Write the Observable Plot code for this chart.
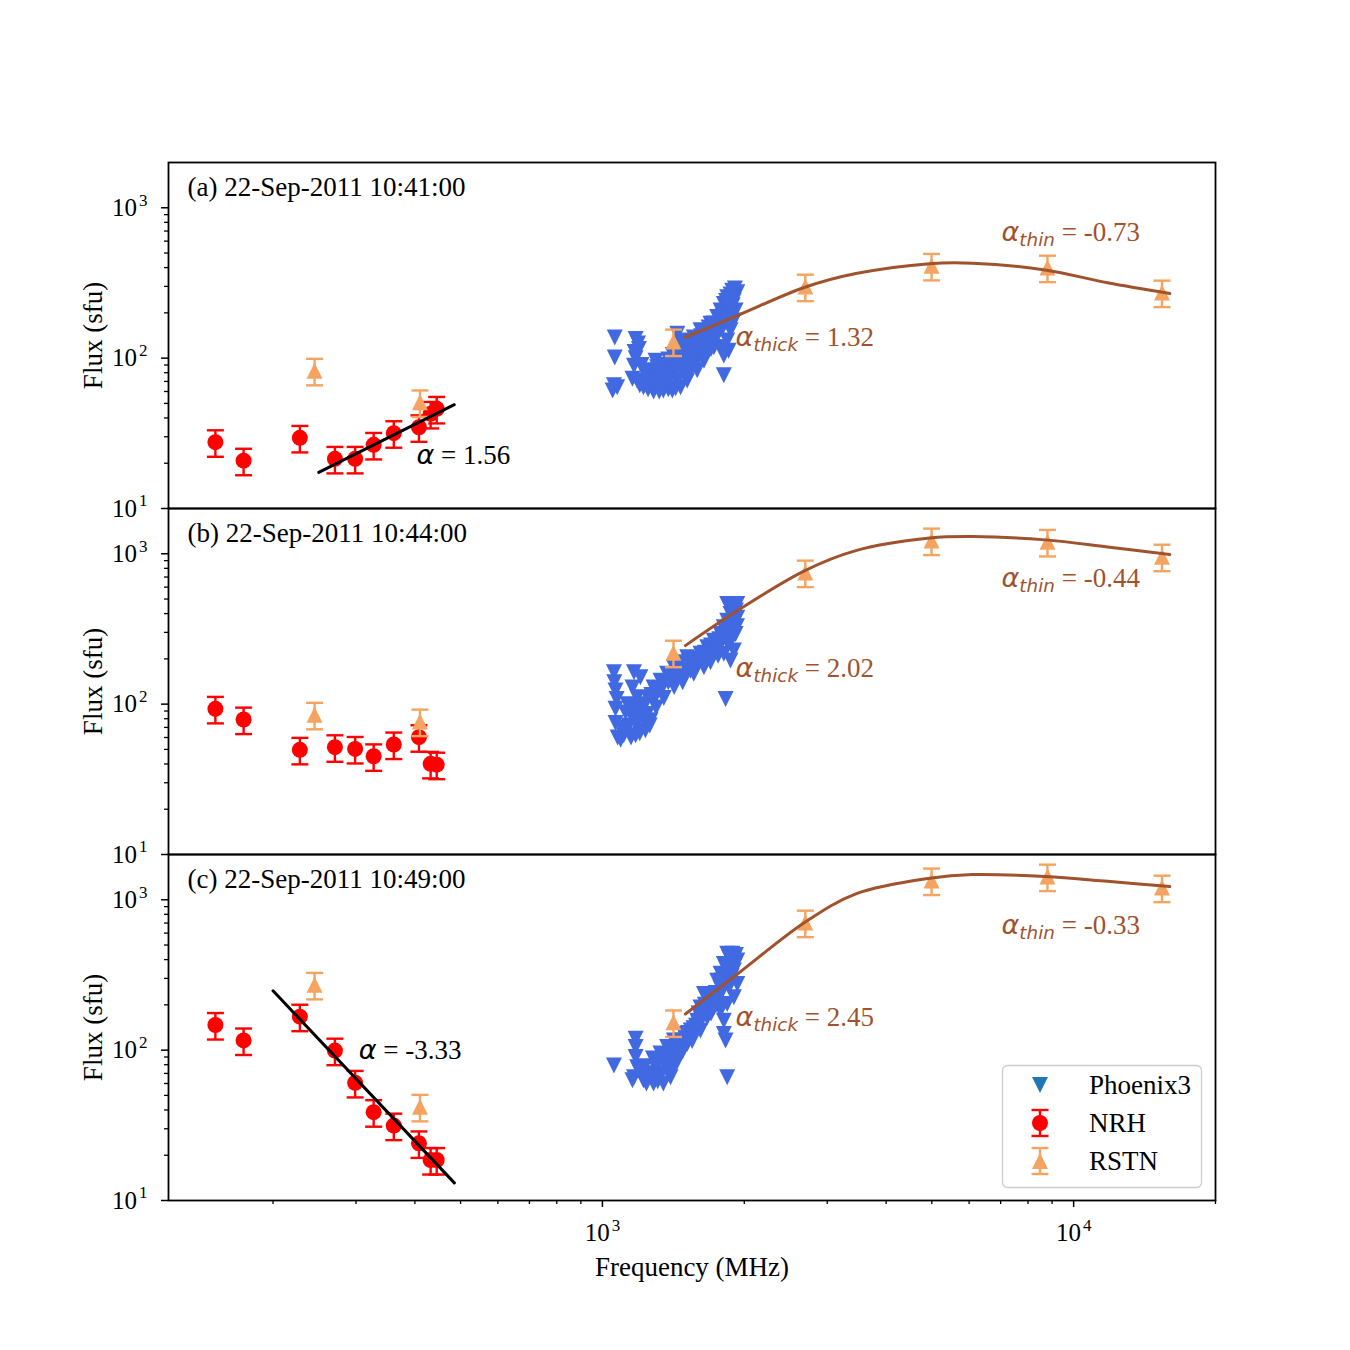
<!DOCTYPE html>
<html>
<head>
<meta charset="utf-8">
<script src="https://cdn.jsdelivr.net/npm/d3@7"></script>
<script src="https://cdn.jsdelivr.net/npm/@observablehq/plot@0.6"></script>
<style>
  body { margin: 0; background: #fff; }
  #chart { width: 1350px; height: 1350px; }
</style>
</head>
<body>
<div id="chart"></div>
<script>
// ---- panels ----
const panels = ["a", "b", "c"];
const panelTitles = ["(a) 22-Sep-2011 10:41:00", "(b) 22-Sep-2011 10:44:00", "(c) 22-Sep-2011 10:49:00"];

// ---- NRH (Nançay Radioheliograph) ----
const nrhFreq = [150.9, 173.2, 228.0, 270.6, 298.7, 327.0, 360.8, 408.0, 432.0, 445.0];
const nrhFluxA = [27.6, 20.8, 29.5, 21.4, 21.4, 26.5, 31.7, 34.7, 42.6, 46.0];
const nrhFluxB = [93.1, 79.0, 49.7, 51.7, 50.4, 45.0, 53.9, 60.3, 40.1, 39.6];
const nrhFluxC = [147, 116, 167, 99.3, 60.6, 38.7, 31.5, 24.0, 18.6, 18.6];

// ---- RSTN ----
const rstnFreq = [245, 410, 1415, 2695, 4995, 8800, 15400];
const rstnFluxA = [82.4, 50.8, 129, 299, 411, 400, 273];
const rstnFluxB = [85, 76.6, 220, 750, 1225, 1200, 957];
const rstnFluxC = [272, 42, 153, 705, 1343, 1427, 1205];

// relative flux uncertainty of the NRH and RSTN points
const fluxErr = 0.2;

// ---- Phoenix3 spectrometer [MHz, sfu] ----
const phoenixA = [
  [1062,137],[1062,101],[1075,64],[1051,61],[1058,66],
  [1176,134],[1195,115],[1167,89],[1176,100],[1158,73],[1190,125],[1170,110],
  [1185,71],[1222,64],[1284,60],[1347,61],[1407,61],[1465,64],[1250,62],[1320,60],[1380,62],[1430,63],
  [1306,75],[1372,83],[1442,92],[1296,96],[1489,112],[1465,131],[1442,145],
  [1525,78],[1576,92],[1615,107],[1669,124],[1615,153],[1696,169],[1752,188],[1781,207],
  [1810,229],[1840,254],[1886,281],[1933,274],[1901,242],[1917,207],[1901,178],[1870,153],
  [1840,131],[1781,118],[1724,118],[1810,104],[1810,77],[1852,112],
  [1538,118],[1563,137],[1489,128],[1669,145],[1724,153],[1642,96],[1589,83],[1513,71],
  [1442,71],[1372,68],[1418,78],[1347,75],[1265,68],[1244,75],[1265,83],[1306,87],
  [1400,95],[1450,105],[1500,100],[1550,105],[1600,120],[1650,135],[1700,150],[1750,165],
  [1800,190],[1850,220],[1880,245],[1900,260],[1700,130],[1750,140],[1800,160],[1850,175],
  [1350,90],[1320,80],[1230,70],[1200,66],[1560,128],[1620,140],[1680,160],
  [1290,70],[1330,68],[1360,72],[1390,76],[1420,88],[1470,84],[1500,88],[1530,95],[1560,100],
  [1590,112],[1630,118],[1660,110],[1700,115],[1730,135],[1760,150],[1790,170],[1820,200],
  [1860,200],[1890,225],[1910,290],[1870,265],[1830,240],[1780,178],[1720,170],[1650,150],
  [1600,135],[1530,115],[1480,118],[1410,105],[1380,98],[1230,80],[1210,90]
];
const phoenixB = [
  [1058,163],[1066,123],[1066,93],[1077,60],[1066,75],[1060,140],[1072,108],
  [1167,163],[1204,151],[1158,129],[1185,111],[1130,100],[1204,95],[1167,82],[1244,86],
  [1284,106],[1284,129],[1328,143],[1372,159],[1265,78],
  [1093,58],[1176,62],[1234,67],[1137,72],[1110,62],[1150,60],[1200,64],[1260,72],
  [1418,176],[1465,190],[1513,205],[1489,151],[1538,167],[1589,185],[1615,216],[1669,239],
  [1696,205],[1752,227],[1724,264],[1781,293],[1810,324],[1840,358],[1870,398],[1901,440],
  [1933,463],[1840,463],[1886,343],[1917,293],[1933,376],
  [1810,216],[1870,195],[1825,108],[1901,227],[1781,251],
  [1563,159],[1642,176],[1696,190],
  [1300,120],[1350,135],[1400,150],[1250,110],[1200,90],[1150,85],[1100,70],[1450,165],
  [1550,195],[1600,200],[1650,220],[1700,245],[1750,260],[1800,280],[1850,300],[1880,320],
  [1900,380],[1920,420],[1300,95],[1350,110],[1420,130],[1480,140],
  [1230,100],[1270,115],[1320,125],[1380,140],[1440,150],[1510,170],[1570,180],[1630,195],
  [1680,215],[1730,235],[1770,270],[1830,300],[1860,330],[1890,410],[1910,360],[1930,330],
  [1850,250],[1880,270],[1760,210],[1180,75],[1120,88],[1220,80],[1160,98]
];
const phoenixC = [
  [1058,79],[1176,119],[1176,105],[1176,90],[1185,77],[1167,66],[1158,63],
  [1222,63],[1284,60],[1347,60],[1265,70],[1306,81],[1328,95],[1372,105],[1418,116],
  [1442,90],[1372,77],[1395,66],[1465,116],[1489,128],[1513,110],
  [1589,157],[1615,192],[1642,236],[1696,225],[1724,192],[1669,165],[1563,128],[1615,135],
  [1752,289],[1781,322],[1810,374],[1840,437],[1886,437],[1933,394],[1901,338],[1870,275],
  [1933,275],[1901,225],[1840,203],
  [1810,157],[1810,128],[1825,116],[1840,66],[1781,184],
  [1250,66],[1300,70],[1350,85],[1400,95],[1450,105],[1500,120],[1540,135],[1580,145],
  [1620,160],[1660,180],[1700,200],[1740,240],[1780,260],[1820,300],[1860,340],[1900,400],
  [1200,72],[1230,78],[1280,88],[1430,80],[1480,98],[1550,115],
  [1240,60],[1310,62],[1330,70],[1360,90],[1410,84],[1420,100],[1460,95],[1520,130],
  [1560,140],[1600,150],[1640,170],[1680,190],[1720,210],[1760,230],[1800,250],[1850,270],
  [1880,310],[1910,370],[1920,430],[1860,410],[1830,350],[1790,290],[1750,200],[1700,175],
  [1650,200],[1600,175],[1520,118],[1390,74],[1300,76]
];

// ---- fitted spectra ----
// power-law fits to the NRH points
const nrhFitFreqA = [250, 485];
const nrhFitFluxA = [17.4, 49];
const nrhFitFreqC = [200, 485];
const nrhFitFluxC = [248, 13.1];
// gyrosynchrotron-type fits to Phoenix3 + RSTN
const gsFitFreq = [1500, 1935, 2690, 3450, 4950, 6100, 8700, 11800, 16000];
const gsFitFluxA = [137.7, 192, 296, 365, 425, 428, 386, 317, 269];
const gsFitFluxB = [245, 419, 773, 1050, 1272, 1301, 1237, 1110, 988];
const gsFitFluxC = [174, 321, 709, 1094, 1389, 1471, 1427, 1327, 1224];

// spectral-index labels
const nrhLabelPanel = ["a", "c"];
const nrhLabelFreq = [403, 304];
const nrhLabelFlux = [22.5, 99.3];
const nrhLabelText = ["α = 1.56", "α = -3.33"];

const gsLabelPanel = ["a", "a", "b", "b", "c", "c"];
const gsLabelFreq = [1917, 7030, 1917, 7030, 1917, 7030];
const gsLabelFlux = [137.7, 687, 171.7, 681, 165.6, 673];
const gsLabelText = ["α_thick = 1.32", "α_thin = -0.73", "α_thick = 2.02", "α_thin = -0.44", "α_thick = 2.45", "α_thin = -0.33"];

// ---- axes ----
const xDomain = [120, 20000];
const yDomain = [10, 2000];
const xMajorTicks = [1000, 10000];
const xMinorTicks = [200, 300, 400, 500, 600, 700, 800, 900, 2000, 3000, 4000, 5000, 6000, 7000, 8000, 9000, 20000];
const yMajorTicks = [10, 100, 1000];
const yMinorTicks = [20, 30, 40, 50, 60, 70, 80, 90, 200, 300, 400, 500, 600, 700, 800, 900];

// ---- build tables ----
const nrhByPanel = [nrhFluxA, nrhFluxB, nrhFluxC];
const rstnByPanel = [rstnFluxA, rstnFluxB, rstnFluxC];
const phoenixByPanel = [phoenixA, phoenixB, phoenixC];
const gsByPanel = [gsFitFluxA, gsFitFluxB, gsFitFluxC];

const nrh = panels.flatMap((p, i) => nrhFreq.map((f, j) => ({panel: p, freq: f, flux: nrhByPanel[i][j]})));
const rstn = panels.flatMap((p, i) => rstnFreq.map((f, j) => ({panel: p, freq: f, flux: rstnByPanel[i][j]})));
const phoenix = panels.flatMap((p, i) => phoenixByPanel[i].map(([f, s]) => ({panel: p, freq: f, flux: s})));
const gsFit = panels.flatMap((p, i) => gsFitFreq.map((f, j) => ({panel: p, freq: f, flux: gsByPanel[i][j]})));
const nrhFit = [
  ...nrhFitFreqA.map((f, j) => ({panel: "a", freq: f, flux: nrhFitFluxA[j]})),
  ...nrhFitFreqC.map((f, j) => ({panel: "c", freq: f, flux: nrhFitFluxC[j]}))
];
const nrhLabels = nrhLabelPanel.map((p, i) => ({panel: p, freq: nrhLabelFreq[i], flux: nrhLabelFlux[i], text: nrhLabelText[i]}));
const gsLabels = gsLabelPanel.map((p, i) => ({panel: p, freq: gsLabelFreq[i], flux: gsLabelFlux[i], text: gsLabelText[i]}));
const titles = panels.map((p, i) => ({panel: p, title: panelTitles[i]}));

// ---- marker shapes (matplotlib-like) ----
const triangleDown = {draw(ctx, size) { const s = Math.sqrt(size / Math.PI); ctx.moveTo(0, s); ctx.lineTo(-s, -s); ctx.lineTo(s, -s); ctx.closePath(); }};
const triangleUp = {draw(ctx, size) { const s = Math.sqrt(size / Math.PI); ctx.moveTo(0, -s); ctx.lineTo(-s, s); ctx.lineTo(s, s); ctx.closePath(); }};
const capBar = {draw(ctx, size) { const s = Math.sqrt(size / Math.PI); ctx.moveTo(-s, 0); ctx.lineTo(s, 0); }};

const W = 1350, H = 1350;
const M = {top: 162, right: 135, bottom: 150, left: 168};
const SIENNA = "#a0522d";
const RSTN_COLOR = "#f4a460";
const PHX_COLOR = "#4169e1";
const SERIF = "'Liberation Serif', 'Times New Roman', serif";

const lo = d => d.flux * (1 - fluxErr);
const hi = d => d.flux * (1 + fluxErr);

function errorBars(data, color) {
  return [
    Plot.ruleX(data, {x: "freq", y1: lo, y2: hi, fy: "panel", stroke: color, strokeWidth: 2.4}),
    Plot.dot(data, {x: "freq", y: lo, fy: "panel", symbol: capBar, r: 8.5, stroke: color, strokeWidth: 2.4, fill: "none"}),
    Plot.dot(data, {x: "freq", y: hi, fy: "panel", symbol: capBar, r: 8.5, stroke: color, strokeWidth: 2.4, fill: "none"})
  ];
}

const chart = Plot.plot({
  width: W,
  height: H,
  marginTop: M.top,
  marginRight: M.right,
  marginBottom: M.bottom,
  marginLeft: M.left,
  style: {fontFamily: SERIF, fontSize: "24px", background: "white", overflow: "visible"},
  x: {type: "log", domain: xDomain},
  y: {type: "log", domain: yDomain},
  fy: {domain: panels, padding: 0, axis: null, label: null},
  marks: [
    // Phoenix3 spectra
    Plot.dot(phoenix, {x: "freq", y: "flux", fy: "panel", symbol: triangleDown, r: 8, fill: PHX_COLOR, stroke: "none"}),
    // NRH with error bars
    ...errorBars(nrh, "red"),
    Plot.dot(nrh, {x: "freq", y: "flux", fy: "panel", r: 8, fill: "red", stroke: "none"}),
    // RSTN with error bars
    ...errorBars(rstn, RSTN_COLOR),
    Plot.dot(rstn, {x: "freq", y: "flux", fy: "panel", symbol: triangleUp, r: 8, fill: RSTN_COLOR, stroke: "none"}),
    // fits
    Plot.line(nrhFit, {x: "freq", y: "flux", fy: "panel", z: "panel", stroke: "black", strokeWidth: 3}),
    Plot.line(gsFit, {x: "freq", y: "flux", fy: "panel", z: "panel", stroke: SIENNA, strokeWidth: 3, curve: "catmull-rom"}),
    // spectral-index labels
    Plot.text(nrhLabels, {x: "freq", y: "flux", fy: "panel", text: "text", textAnchor: "start", lineAnchor: "middle", fontSize: 27, fill: "black"}),
    Plot.text(gsLabels, {x: "freq", y: "flux", fy: "panel", text: "text", textAnchor: "start", lineAnchor: "middle", fontSize: 27, fill: SIENNA}),
    // panel titles
    Plot.text(titles, {fy: "panel", text: "title", frameAnchor: "top-left", dx: 19, dy: 25, textAnchor: "start", lineAnchor: "middle", fontSize: 27, fill: "black"}),
    // y label in every panel
    Plot.text(titles, {fy: "panel", text: () => "Flux (sfu)", frameAnchor: "left", rotate: -90, dx: -75, textAnchor: "middle", lineAnchor: "middle", fontSize: 27, fill: "black"}),
    // x label below the bottom panel
    Plot.text([{panel: "c"}], {fy: "panel", text: () => "Frequency (MHz)", frameAnchor: "bottom", dy: 67, textAnchor: "middle", lineAnchor: "middle", fontSize: 27, fill: "black"}),
    Plot.frame({stroke: "black", strokeWidth: 1.8}),
    // axes
    Plot.axisY({ticks: yMinorTicks, tickSize: 4, tickFormat: () => "", strokeWidth: 1.3, label: null}),
    Plot.axisY({ticks: yMajorTicks, tickSize: 7, tickPadding: 14, tickFormat: d => "10^" + Math.round(Math.log10(d)), strokeWidth: 1.5, label: null}),
    Plot.axisX({ticks: xMinorTicks, tickSize: 4, tickFormat: () => "", strokeWidth: 1.3, label: null}),
    Plot.axisX({ticks: xMajorTicks, tickSize: 7, tickPadding: 16, tickFormat: d => "10^" + Math.round(Math.log10(d)), strokeWidth: 1.5, label: null})
  ]
});

document.getElementById("chart").appendChild(chart);

// ---- typeset powers of ten and spectral indices ----
const mathFont = "'DejaVu Sans', sans-serif";
chart.querySelectorAll("text").forEach(t => {
  if (t.children.length) return;
  const s = t.textContent;
  let m = /^10\^(\d)$/.exec(s);
  if (m) {
    t.textContent = "10";
    t.style.fontSize = "25px";
    t.style.fontFamily = SERIF;
    d3.select(t).append("tspan").attr("dx", "2").attr("dy", "-0.6em").style("font-size", "17px").text(m[1]);
    return;
  }
  m = /^α(?:_(\w+))? (= .+)$/.exec(s);
  if (m) {
    t.textContent = "";
    const sel = d3.select(t);
    sel.append("tspan").attr("font-family", mathFont).attr("font-style", "italic").text("α");
    if (m[1]) {
      sel.append("tspan").attr("font-family", mathFont).attr("font-style", "italic")
        .attr("font-size", "0.68em").attr("dy", 5).text(m[1]);
      sel.append("tspan").attr("dy", -5).text(" " + m[2]);
    } else {
      sel.append("tspan").text(" " + m[2]);
    }
  }
});

// ---- legend in the bottom panel ----
{
  const right = W - M.right, bottom = H - M.bottom;
  const g = d3.select(chart).append("g")
    .attr("transform", `translate(${right - 213},${bottom - 135})`);
  g.append("rect").attr("x", 0.5).attr("y", 0.5).attr("width", 199).attr("height", 122).attr("rx", 5)
    .attr("fill", "white").attr("fill-opacity", 0.8).attr("stroke", "#cccccc").attr("stroke-width", 1.3);
  const sym = (type, r) => d3.symbol(type, Math.PI * r * r)();
  const mx = 38, tx = 87;
  // Phoenix3
  g.append("path").attr("d", sym(triangleDown, 8)).attr("transform", `translate(${mx},20)`).attr("fill", "#1f77b4");
  // NRH and RSTN error-bar glyphs
  const eb = (y, color) => {
    g.append("line").attr("x1", mx).attr("x2", mx).attr("y1", y - 13).attr("y2", y + 13).attr("stroke", color).attr("stroke-width", 2.4);
    [y - 13, y + 13].forEach(c => g.append("line").attr("x1", mx - 8.5).attr("x2", mx + 8.5).attr("y1", c).attr("y2", c).attr("stroke", color).attr("stroke-width", 2.4));
  };
  eb(58, "red");
  g.append("circle").attr("cx", mx).attr("cy", 58).attr("r", 8).attr("fill", "red");
  eb(96, RSTN_COLOR);
  g.append("path").attr("d", sym(triangleUp, 8)).attr("transform", `translate(${mx},96)`).attr("fill", RSTN_COLOR);
  [["Phoenix3", 20], ["NRH", 58], ["RSTN", 96]].forEach(([label, y]) => {
    g.append("text").attr("x", tx).attr("y", y).attr("dy", "0.35em")
      .attr("text-anchor", "start")
      .style("font-size", "27px").style("font-family", SERIF)
      .attr("fill", "black").text(label);
  });
}
</script>
</body>
</html>
